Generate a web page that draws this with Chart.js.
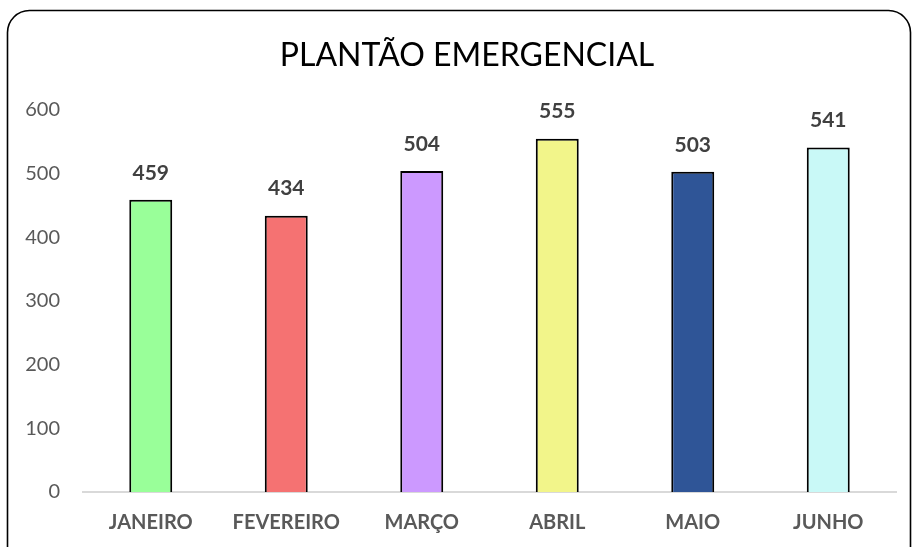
<!DOCTYPE html>
<html>
<head>
<meta charset="utf-8">
<script src="https://cdn.jsdelivr.net/npm/chart.js@4/dist/chart.umd.min.js"></script>
<style>
html,body{margin:0;padding:0;background:#fff;}
#wrap{width:913px;height:547px;position:relative;}
</style>
</head>
<body>
<div id="wrap"><canvas id="c" width="913" height="547"></canvas></div>
<script>
const categories = ["JANEIRO", "FEVEREIRO", "MARÇO", "ABRIL", "MAIO", "JUNHO"];
const values = [459, 434, 504, 555, 503, 541];
const barColors = ["#99FF99", "#F57272", "#CC99FF", "#F2F58A", "#2F5597", "#C9F9F7"];
const yTicks = [0, 100, 200, 300, 400, 500, 600];
const titleText = "PLANTÃO EMERGENCIAL";

const FONT = "Lato, 'Open Sans', sans-serif";

const framePlugin = {
  id: 'frame',
  afterDraw(chart) {
    const ctx = chart.ctx;
    ctx.save();
    ctx.strokeStyle = '#000';
    ctx.lineWidth = 1.6;
    ctx.beginPath();
    ctx.roundRect(7.5, 10.5, 903, 580, 22);
    ctx.stroke();
    ctx.font = "32px " + FONT;
    ctx.fillStyle = '#000';
    ctx.textAlign = 'center';
    ctx.textBaseline = 'middle';
    ctx.fillText(titleText, 467, 56);
    ctx.restore();
  }
};

const labelPlugin = {
  id: 'valueLabels',
  afterDatasetsDraw(chart) {
    const ctx = chart.ctx;
    const meta = chart.getDatasetMeta(0);
    ctx.save();
    ctx.font = "bold 21px " + FONT;
    ctx.fillStyle = '#404040';
    ctx.textAlign = 'center';
    ctx.textBaseline = 'middle';
    meta.data.forEach((bar, i) => {
      ctx.fillText(String(values[i]), bar.x, bar.y - 27);
    });
    ctx.restore();
  }
};

new Chart(document.getElementById('c'), {
  type: 'bar',
  data: {
    labels: categories,
    datasets: [{
      data: values,
      backgroundColor: barColors,
      borderColor: '#000',
      borderWidth: 2,
      borderSkipped: 'bottom',
      categoryPercentage: 1,
      barPercentage: 0.317
    }]
  },
  options: {
    responsive: false,
    animation: false,
    devicePixelRatio: 1,
    layout: { padding: { left: 0, right: 17, top: 110, bottom: 0 } },
    plugins: {
      legend: { display: false },
      tooltip: { enabled: false },
      title: { display: false }
    },
    scales: {
      x: {
        grid: { display: false, drawTicks: false },
        border: { display: true, color: '#D9D9D9', width: 2 },
        ticks: { color: '#595959', font: { family: FONT, size: 20, weight: 'bold' }, padding: 19 },
        afterFit(s) { s.height = 55; }
      },
      y: {
        min: 0, max: 600,
        afterBuildTicks(s) { s.ticks = yTicks.map(v => ({ value: v })); },
        grid: { display: false, drawTicks: false },
        border: { display: false },
        ticks: { color: '#595959', font: { family: FONT, size: 20 }, padding: 23 },
        afterFit(s) { s.width = 83; }
      }
    }
  },
  plugins: [framePlugin, labelPlugin]
});
</script>
</body>
</html>
